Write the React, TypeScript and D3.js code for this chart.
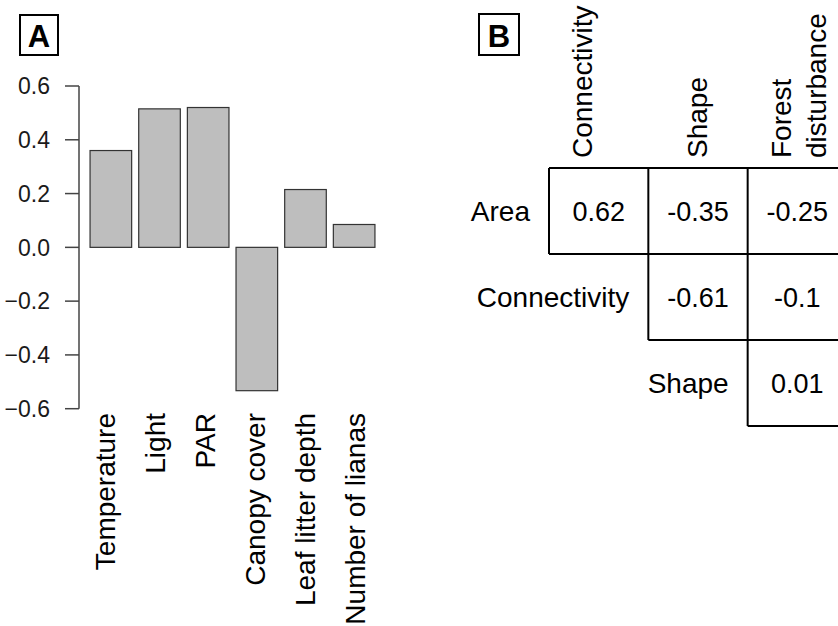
import React from 'react';
import * as d3 from 'd3';

// Panel A: bar chart
const factors = ['Temperature', 'Light', 'PAR', 'Canopy cover', 'Leaf litter depth', 'Number of lianas'];
const coefs = [0.36, 0.515, 0.52, -0.533, 0.215, 0.085];
const yTicks = [-0.6, -0.4, -0.2, 0.0, 0.2, 0.4, 0.6];

// Panel B: correlation triangle
const rowVars = ['Area', 'Connectivity', 'Shape'];
const colVars = ['Connectivity', 'Shape', 'Forest disturbance'];
const corr = [
    [0.62, -0.35, -0.25],
    [null, -0.61, -0.1],
    [null, null, 0.01],
];
const colHeaders = [['Connectivity'], ['Shape'], ['Forest', 'disturbance']];
// header baseline shifts from column centre (hand-placed in the original)
const headerShift = [-7, 9, -6];

const FONT = '"Liberation Sans", Arial, Helvetica, sans-serif';

const App = () => {
    const W = 838, H = 626;

    const y = d3.scaleLinear().domain([-0.6, 0.6]).range([408.7, 86]);
    const x = d3.scaleBand().domain(factors).range([83, 382]).paddingInner(0.145).paddingOuter(0.145);
    const xLab = d3.scalePoint().domain(factors).range([114.5, 365]);

    const cx = d3.scaleBand().domain(colVars).range([549, 847]);
    const ry = d3.scaleBand().domain(rowVars).range([168, 426]);
    const right = 847;

    return (
        <svg width={W} height={H} style={{ position: 'absolute', left: 0, top: 0, background: '#fff' }}
            fontFamily={FONT}>
            {/* Panel label A */}
            <rect x={20} y={15} width={38} height={40} fill="none" stroke="#000" strokeWidth={2} />
            <text x={39} y={46.5} textAnchor="middle" fontSize={31} fontWeight="bold">A</text>

            {/* y axis */}
            <g stroke="#444" strokeWidth={1.5}>
                <line x1={79} x2={79} y1={y(0.6)} y2={y(-0.6)} />
                {yTicks.map(t => (
                    <line key={t} x1={65} x2={79} y1={y(t)} y2={y(t)} />
                ))}
            </g>
            {yTicks.map(t => (
                <text key={'l' + t} x={50} y={y(t)} dy="0.36em" textAnchor="end" fontSize={23} fill="#1a1a1a">
                    {d3.format('.1f')(t)}
                </text>
            ))}

            {/* bars */}
            {factors.map((f, i) => (
                <rect key={f}
                    x={x(f)} width={x.bandwidth()}
                    y={y(Math.max(0, coefs[i]))}
                    height={Math.abs(y(coefs[i]) - y(0))}
                    fill="#bebebe" stroke="#333" strokeWidth={1.2} />
            ))}

            {/* rotated category labels */}
            {factors.map(f => (
                <text key={'t' + f} transform={`translate(${xLab(f)},413) rotate(-90)`}
                    textAnchor="end" fontSize={28} fill="#000">{f}</text>
            ))}

            {/* Panel label B */}
            <rect x={479} y={14} width={40} height={41} fill="none" stroke="#000" strokeWidth={2} />
            <text x={499} y={46.5} textAnchor="middle" fontSize={31} fontWeight="bold">B</text>

            {/* column headers */}
            {colVars.map((c, j) => {
                const lines = colHeaders[j];
                const base = cx(c) + cx.bandwidth() / 2 + headerShift[j];
                return lines.map((ln, k) => (
                    <text key={c + k} transform={`translate(${base + k * 34.5},158) rotate(-90)`}
                        fontSize={28} fill="#000">{ln}</text>
                ));
            })}

            {/* row labels */}
            {rowVars.map((r, i) => (
                <text key={'r' + r} x={cx(colVars[i]) - 19} y={ry(r) + ry.bandwidth() / 2}
                    dy="0.36em" textAnchor="end" fontSize={28} fill="#000">{r}</text>
            ))}

            {/* grid lines of upper triangle */}
            <g stroke="#000" strokeWidth={2} fill="none">
                <line x1={cx(colVars[0])} x2={right} y1={ry(rowVars[0])} y2={ry(rowVars[0])} />
                {rowVars.map((r, i) => (
                    <g key={'g' + r}>
                        <line x1={cx(colVars[i])} x2={cx(colVars[i])}
                            y1={ry(rowVars[0])} y2={ry(r) + ry.bandwidth()} />
                        <line x1={cx(colVars[i])} x2={right}
                            y1={ry(r) + ry.bandwidth()} y2={ry(r) + ry.bandwidth()} />
                    </g>
                ))}
            </g>

            {/* correlation values */}
            {corr.map((row, i) => row.map((v, j) => v === null ? null : (
                <text key={`c${i}${j}`} x={cx(colVars[j]) + cx.bandwidth() / 2}
                    y={ry(rowVars[i]) + ry.bandwidth() / 2} dy="0.36em"
                    textAnchor="middle" fontSize={27} fill="#000">{String(v)}</text>
            )))}
        </svg>
    );
};

export default App;
